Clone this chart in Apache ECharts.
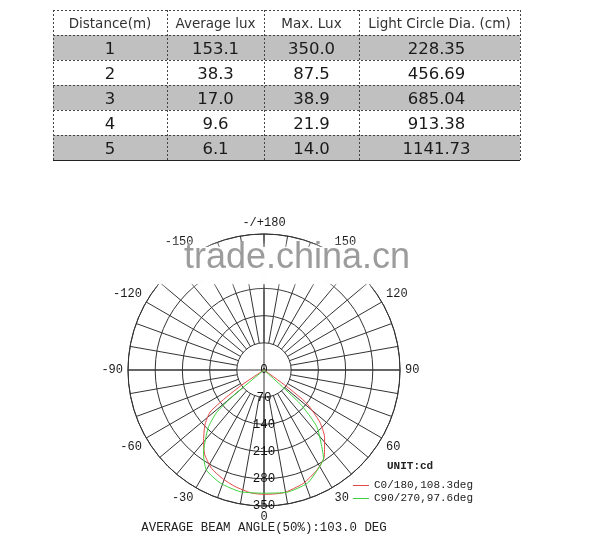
<!DOCTYPE html>
<html>
<head>
<meta charset="utf-8">
<script src="https://cdn.jsdelivr.net/npm/echarts@6/dist/echarts.min.js"></script>
<style>
  * { margin: 0; padding: 0; }
  body { background: #fff; }
  #chart { width: 596px; height: 550px; }
</style>
</head>
<body>
<div id="chart"></div>
<script>
// table
var tableHeader = ['Distance(m)', 'Average lux', 'Max. Lux', 'Light Circle Dia. (cm)'];
var distance = ['1', '2', '3', '4', '5'];
var avgLux = ['153.1', '38.3', '17.0', '9.6', '6.1'];
var maxLux = ['350.0', '87.5', '38.9', '21.9', '14.0'];
var circleDia = ['228.35', '456.69', '685.04', '913.38', '1141.73'];

// light distribution, angle in deg (0 = straight down, + to the right), intensity in cd
var redAngle = [-90, -60, -56, -54, -52, -47, -40, -35, -28, -21, -14, -6, 0, 9, 19, 28, 35, 42, 47, 52, 54, 60, 90];
var redCd = [0, 0, 69, 124, 176, 208, 242, 266, 287, 299, 309, 318, 320, 320, 309, 291, 271, 233, 196, 139, 72, 0, 0];
var greenAngle = [-90, -55, -50, -48, -44, -36, -30, -21, -11, 0, 11, 21, 28, 34, 37, 43, 47, 55, 90];
var greenCd = [0, 0, 111, 165, 207, 265, 297, 312, 319, 317, 320, 312, 292, 274, 247, 199, 126, 0, 0];

var redName = 'C0/180,108.3deg';
var greenName = 'C90/270,97.6deg';
var redColor = '#e44848';
var greenColor = '#3ed23e';

var colX = [53, 167, 264, 359, 520];
var tableTop = 10, rowH = 25;
var cx = 264, cy = 370, R = 136;
var gridColor = '#333';
var mono = 'Liberation Mono';

function toPolar(angles, cd) {
  return angles.map(function (a, i) {
    return [cd[i], a < 0 ? a + 360 : a];
  });
}

// table built with graphic elements
var tableEls = [];
var rows = distance.map(function (d, i) {
  return [d, avgLux[i], maxLux[i], circleDia[i]];
});
rows.forEach(function (r, i) {
  if (i % 2 === 0) {
    tableEls.push({
      type: 'rect',
      shape: { x: colX[0], y: tableTop + rowH * (i + 1), width: colX[4] - colX[0], height: rowH },
      style: { fill: '#c0c0c0' }
    });
  }
});
for (var k = 0; k <= rows.length + 1; k++) {
  var yy = tableTop + rowH * k + 0.5;
  var last = k === rows.length + 1;
  tableEls.push({
    type: 'line',
    shape: { x1: colX[0], y1: yy, x2: colX[4], y2: yy },
    style: { stroke: last ? '#222' : '#444', lineWidth: 1, lineDash: last ? null : [2, 2] }
  });
}
colX.forEach(function (x) {
  tableEls.push({
    type: 'line',
    shape: { x1: x + 0.5, y1: tableTop, x2: x + 0.5, y2: tableTop + rowH * (rows.length + 1) },
    style: { stroke: '#444', lineWidth: 1, lineDash: [2, 2] }
  });
});
tableHeader.forEach(function (h, c) {
  tableEls.push({
    type: 'text',
    x: (colX[c] + colX[c + 1]) / 2,
    y: tableTop + rowH / 2 + 2,
    style: { text: h, fill: '#333', font: '13.5px "DejaVu Sans"', textAlign: 'center', textVerticalAlign: 'middle' }
  });
});
rows.forEach(function (r, i) {
  r.forEach(function (v, c) {
    tableEls.push({
      type: 'text',
      x: (colX[c] + colX[c + 1]) / 2 - (c === 3 ? 3 : 0),
      y: tableTop + rowH * (i + 1) + rowH / 2 + 2,
      style: { text: v, fill: '#1a1a1a', font: '16.5px "DejaVu Sans"', textAlign: 'center', textVerticalAlign: 'middle' }
    });
  });
});

var chart = echarts.init(document.getElementById('chart'));
chart.setOption({
  animation: false,
  backgroundColor: '#fff',
  polar: [
    { center: [cx, cy], radius: [0, R] },
    { center: [cx, cy], radius: [R / 5, R] }
  ],
  angleAxis: [
    {
      polarIndex: 0, type: 'value', min: 0, max: 360, interval: 90,
      startAngle: -90, clockwise: false,
      axisLine: { lineStyle: { color: gridColor, width: 1 } },
      axisTick: { show: false },
      axisLabel: { show: false },
      splitLine: { show: true, lineStyle: { color: gridColor, width: 1 } }
    },
    {
      polarIndex: 1, type: 'value', min: 0, max: 360, interval: 10,
      startAngle: -90, clockwise: false,
      axisLine: { show: false },
      axisTick: { show: false },
      axisLabel: {
        margin: 5,
        fontFamily: mono, fontSize: 12, color: '#1a1a1a',
        formatter: function (v) {
          if (v % 30 !== 0 || v === 360) return '';
          if (v === 180) return '-/+180';
          return String(v > 180 ? v - 360 : v);
        }
      },
      splitLine: { show: true, lineStyle: { color: gridColor, width: 1 } }
    }
  ],
  radiusAxis: [
    {
      polarIndex: 0, type: 'value', min: 0, max: 350, interval: 70,
      axisLine: { show: false },
      axisTick: { show: false },
      axisLabel: {
        margin: 0, align: 'center', verticalAlign: 'middle', padding: [0, 0, 6, 0],
        fontFamily: mono, fontSize: 12.5, color: '#111'
      },
      splitLine: { show: true, lineStyle: { color: gridColor, width: 1 } }
    },
    { polarIndex: 1, type: 'value', min: 0, max: 1, show: false }
  ],
  legend: {
    orient: 'vertical', left: 348, top: 474,
    itemWidth: 16, itemHeight: 1, itemGap: 0,
    icon: 'rect',
    textStyle: { fontFamily: mono, fontSize: 11, color: '#222', lineHeight: 13 },
    data: [
      { name: redName, itemStyle: { color: redColor } },
      { name: greenName, itemStyle: { color: greenColor } }
    ]
  },
  series: [
    {
      name: redName, type: 'line', coordinateSystem: 'polar', polarIndex: 0,
      data: toPolar(redAngle, redCd), showSymbol: false, smooth: 0.2,
      lineStyle: { color: redColor, width: 1 }, itemStyle: { color: redColor }, z: 5
    },
    {
      name: greenName, type: 'line', coordinateSystem: 'polar', polarIndex: 0,
      data: toPolar(greenAngle, greenCd), showSymbol: false, smooth: 0.2,
      lineStyle: { color: greenColor, width: 1 }, itemStyle: { color: greenColor }, z: 5
    }
  ],
  graphic: tableEls.concat([
    {
      type: 'text', x: 387, y: 466,
      style: { text: 'UNIT:cd', fill: '#222', font: 'bold 11px "Liberation Mono"', textVerticalAlign: 'middle' }
    },
    {
      type: 'text', x: cx, y: 528,
      style: { text: 'AVERAGE BEAM ANGLE(50%):103.0 DEG', fill: '#222', font: '12.4px "Liberation Mono"', textAlign: 'center', textVerticalAlign: 'middle' }
    },
    {
      type: 'rect', z: 100,
      shape: { x: 152, y: 247, width: 262, height: 37, r: 6 },
      style: { fill: 'rgba(255,255,255,0.93)', shadowBlur: 8, shadowColor: 'rgba(255,255,255,0.95)' }
    },
    {
      type: 'text', z: 101, x: 184, y: 276,
      style: { text: 'trade.china.cn', fill: '#9c9c9c', font: '36px "Liberation Sans"', textVerticalAlign: 'bottom' }
    }
  ])
});
</script>
</body>
</html>
